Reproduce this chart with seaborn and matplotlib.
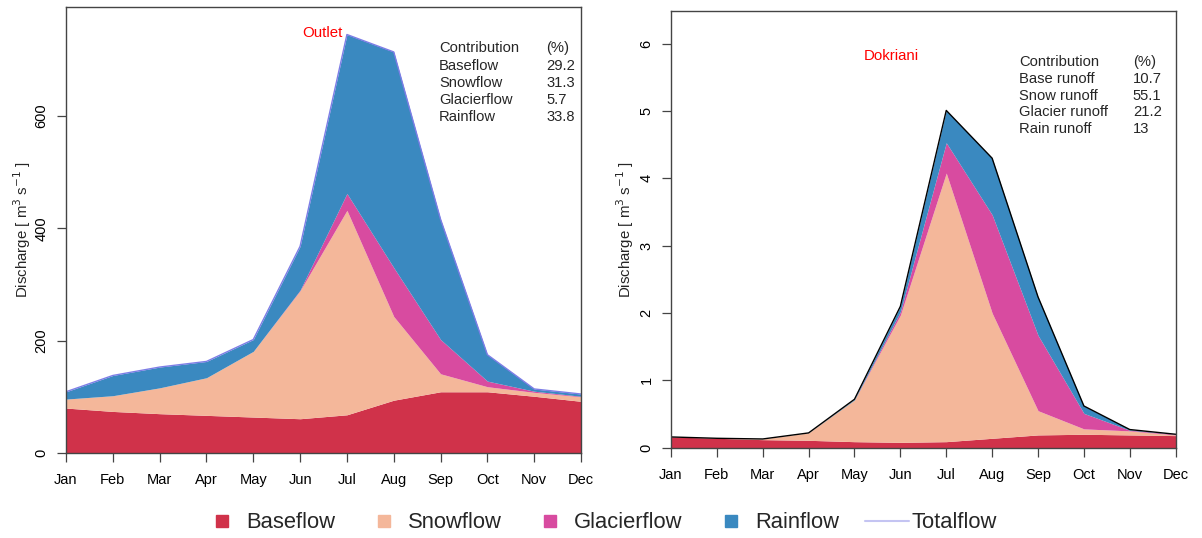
import numpy as np
import pandas as pd
import seaborn as sns
import matplotlib.pyplot as plt
from matplotlib.lines import Line2D

months = ['Jan', 'Feb', 'Mar', 'Apr', 'May', 'Jun', 'Jul', 'Aug', 'Sep', 'Oct', 'Nov', 'Dec']

# Outlet (m3/s)
outlet_base = [80, 74, 70, 67, 64, 61, 68, 94, 109, 109, 101, 92]
outlet_snow = [16, 28, 46, 67, 117, 228, 364, 149, 32, 9, 7, 8]
outlet_glacier = [0, 0, 0, 0, 0, 1, 30, 87, 61, 10, 2, 1]
outlet_rain = [13, 36, 37, 29, 21, 78, 283, 384, 214, 47, 4, 4]

# Dokriani (m3/s)
dok_base = [0.16, 0.14, 0.12, 0.11, 0.09, 0.08, 0.09, 0.14, 0.19, 0.20, 0.19, 0.18]
dok_snow = [0.00, 0.00, 0.01, 0.11, 0.62, 1.89, 3.99, 1.86, 0.36, 0.08, 0.06, 0.01]
dok_glacier = [0.00, 0.00, 0.00, 0.00, 0.00, 0.05, 0.45, 1.46, 1.12, 0.23, 0.01, 0.01]
dok_rain = [0.00, 0.00, 0.00, 0.00, 0.01, 0.08, 0.48, 0.84, 0.57, 0.11, 0.01, 0.00]

outlet_labels = ['Baseflow', 'Snowflow', 'Glacierflow', 'Rainflow']
outlet_pct = ['29.2', '31.3', '5.7', '33.8']
dok_labels = ['Base runoff', 'Snow runoff', 'Glacier runoff', 'Rain runoff']
dok_pct = ['10.7', '55.1', '21.2', '13']

colors = ['#D0324A', '#F4B79A', '#D84BA0', '#3A89C0']
legend_names = ['Baseflow', 'Snowflow', 'Glacierflow', 'Rainflow', 'Totalflow']

sns.set_theme(style="ticks")
plt.rcParams['font.family'] = ['Liberation Sans', 'DejaVu Sans']

fig = plt.figure(figsize=(12.02, 5.38), dpi=100)
ax1 = fig.add_axes([0.0549, 0.158, 0.4285, 0.829])
ax2 = fig.add_axes([0.5582, 0.1678, 0.4199, 0.8122])


def draw_panel(ax, base, snow, glacier, rain, total_color, ylim, yticks,
               name, name_xy, labels, pct, tab_x, tab_y, ylab_x):
    x = np.arange(len(months))
    df = pd.DataFrame({'x': x, 'total': np.array(base) + np.array(snow)
                       + np.array(glacier) + np.array(rain)})
    ax.stackplot(x, base, snow, glacier, rain, colors=colors, linewidth=0)
    sns.lineplot(data=df, x='x', y='total', ax=ax, color=total_color, lw=1)
    ax.set_xlim(0, 11)
    ax.set_ylim(*ylim)
    ax.set_xticks(x)
    ax.set_xticklabels(months)
    ax.set_yticks(yticks)
    ax.set_yticklabels([str(t) for t in yticks], rotation=90, va='center')
    ax.tick_params(axis='both', labelsize=10.5, length=6.5, width=0.9,
                   color='#444444', labelcolor='black')
    ax.tick_params(axis='x', pad=8)
    ax.tick_params(axis='y', pad=6)
    for s in ax.spines.values():
        s.set_visible(True)
        s.set_color('#444444')
        s.set_linewidth(1)
    ax.set_xlabel('')
    ax.set_ylabel('Discharge [ m$^3$ s$^{-1}$ ]', fontsize=10.8)
    ax.yaxis.set_label_coords(ylab_x, 0.5)
    ax.text(name_xy[0], name_xy[1], name, color='red', fontsize=10.8,
            ha='center', va='center', transform=ax.transAxes)
    rows = [('Contribution', '(%)')] + list(zip(labels, pct))
    for i, (a, b) in enumerate(rows):
        yy = tab_y - i * 0.0385
        ax.text(tab_x[0], yy, a, fontsize=10.6, va='center', transform=ax.transAxes)
        ax.text(tab_x[1], yy, b, fontsize=10.6, va='center', transform=ax.transAxes)


draw_panel(ax1, outlet_base, outlet_snow, outlet_glacier, outlet_rain,
           '#7d7de6', (0, 794), [0, 200, 400, 600], 'Outlet', (0.497, 0.942),
           outlet_labels, outlet_pct, (0.724, 0.932), 0.907, -0.065)
draw_panel(ax2, dok_base, dok_snow, dok_glacier, dok_rain,
           'black', (0, 6.49), [0, 1, 2, 3, 4, 5, 6], 'Dokriani', (0.437, 0.896),
           dok_labels, dok_pct, (0.6895, 0.915), 0.883, -0.07)

handles = [Line2D([], [], ls='none', marker='s', markersize=8, color=c) for c in colors]
handles.append(Line2D([], [], color='#c4c4f2', lw=1.5))
fig.legend(handles, legend_names, loc='center', bbox_to_anchor=(0.498, 0.028),
           ncol=5, frameon=False, fontsize=15.8, handlelength=2.0,
           handletextpad=0.1, columnspacing=1.2)

plt.savefig('out.png', dpi=100)
